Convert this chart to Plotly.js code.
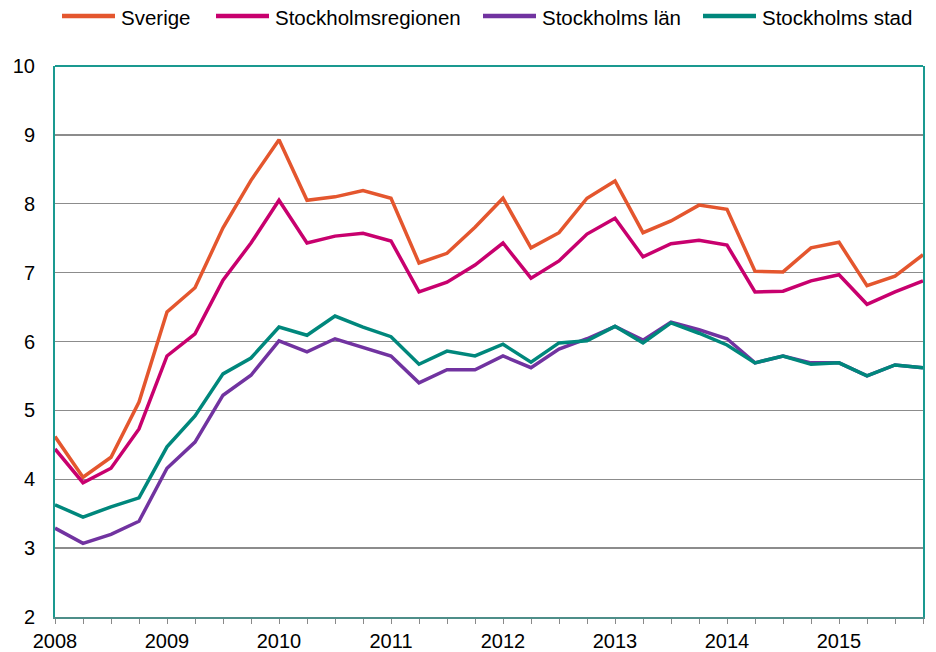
<!DOCTYPE html>
<html>
<head>
<meta charset="utf-8">
<script src="https://cdn.plot.ly/plotly-3.0.1.min.js"></script>
<style>html,body{margin:0;padding:0;background:#fff;}#chart{width:936px;height:652px;}</style>
</head>
<body>
<div id="chart"></div>
<script>
// Quarters 2008 K1 .. 2015 K4
var years = [2008,2008,2008,2008,2009,2009,2009,2009,2010,2010,2010,2010,2011,2011,2011,2011,
             2012,2012,2012,2012,2013,2013,2013,2013,2014,2014,2014,2014,2015,2015,2015,2015];
var quarters = [1,2,3,4,1,2,3,4,1,2,3,4,1,2,3,4,1,2,3,4,1,2,3,4,1,2,3,4,1,2,3,4];

var sverige = [4.62,4.03,4.32,5.12,6.43,6.78,7.65,8.34,8.93,8.05,8.10,8.19,8.08,7.14,7.28,7.66,
               8.08,7.36,7.58,8.08,8.33,7.58,7.75,7.98,7.92,7.02,7.01,7.36,7.44,6.81,6.95,7.26];
var stockholmsregionen = [4.44,3.95,4.16,4.73,5.79,6.11,6.89,7.43,8.05,7.43,7.53,7.57,7.46,6.72,6.86,7.11,
               7.43,6.92,7.17,7.56,7.79,7.23,7.42,7.47,7.40,6.72,6.73,6.88,6.97,6.54,6.72,6.88];
var stockholmsLan = [3.29,3.07,3.20,3.39,4.16,4.54,5.22,5.51,6.01,5.85,6.04,5.92,5.79,5.40,5.59,5.59,
               5.79,5.62,5.89,6.04,6.22,6.02,6.28,6.17,6.04,5.69,5.79,5.69,5.69,5.50,5.66,5.62];
var stockholmsStad = [3.63,3.45,3.60,3.73,4.47,4.92,5.53,5.76,6.21,6.09,6.37,6.21,6.07,5.67,5.86,5.79,
               5.96,5.70,5.98,6.01,6.22,5.98,6.27,6.12,5.95,5.69,5.79,5.67,5.69,5.50,5.66,5.62];

var seriesNames = ['Sverige','Stockholmsregionen','Stockholms län','Stockholms stad'];
var seriesColors = ['#E4562E','#C8006E','#7133A0','#00877C'];
var seriesValues = [sverige, stockholmsregionen, stockholmsLan, stockholmsStad];

var x = years.map(function(y,i){ return y + (quarters[i]-1)/4; });
var tickText = x.map(function(v,i){ return quarters[i]===1 ? String(years[i]) : ''; });

var traces = seriesValues.map(function(vals,k){
  return {
    type:'scatter', mode:'lines', name: seriesNames[k],
    x: x, y: vals,
    line:{color: seriesColors[k], width:3.5}
  };
});

// Legend drawn as shapes + annotations (pixel layout of the reference legend)
var W = 936, H = 652, ML = 55, MR = 13, MT = 66, MB = 35;
var pw = W - ML - MR, ph = H - MT - MB;
function px2x(p){ return (p - ML) / pw; }
function py2y(p){ return (H - MB - p) / ph; }
var legLineStart = [62, 216, 483, 703];
var legLineLen = 53, legY = 16;

var shapes = [{type:'line', xref:'paper', yref:'paper', x0:0, x1:1, y0:1, y1:1,
               line:{color:'#1A9990', width:2}}];
var annotations = [];
var F = 'Arial, "Liberation Sans", sans-serif';
seriesNames.forEach(function(n,k){
  shapes.push({type:'line', xref:'paper', yref:'paper',
    x0:px2x(legLineStart[k]), x1:px2x(legLineStart[k]+legLineLen),
    y0:py2y(legY), y1:py2y(legY), line:{color:seriesColors[k], width:4.5}});
  annotations.push({xref:'paper', yref:'paper', x:px2x(legLineStart[k]+legLineLen+4),
    y:py2y(legY+1), xanchor:'left', yanchor:'middle', showarrow:false, text:n,
    font:{family:F, size:20.5, color:'#000'}});
});

var layout = {
  width:W, height:H,
  margin:{l:ML, r:MR, t:MT, b:MB},
  paper_bgcolor:'#fff', plot_bgcolor:'#fff',
  font:{family:F, size:20, color:'#000'},
  showlegend:false,
  xaxis:{range:[2008, 2015.75], tickmode:'array', tickvals:x, ticktext:tickText,
         ticks:'outside', ticklen:5, tickwidth:1, tickcolor:'#8a8a8a',
         showgrid:false, zeroline:false, showline:true, linecolor:'#4E8E89', linewidth:2,
         tickfont:{family:F, size:20, color:'#000'}, tickangle:0, fixedrange:true},
  yaxis:{range:[2,10], dtick:1, tick0:2, showgrid:true, gridcolor:'#8c8c8c', gridwidth:1.3,
         zeroline:false, showline:true, mirror:true, linecolor:'#1A9990', linewidth:2,
         ticks:'', ticklabelstandoff:14,
         tickfont:{family:F, size:20, color:'#000'}, fixedrange:true},
  shapes:shapes,
  annotations:annotations
};

Plotly.newPlot('chart', traces, layout, {displayModeBar:false, staticPlot:true});
</script>
</body>
</html>
